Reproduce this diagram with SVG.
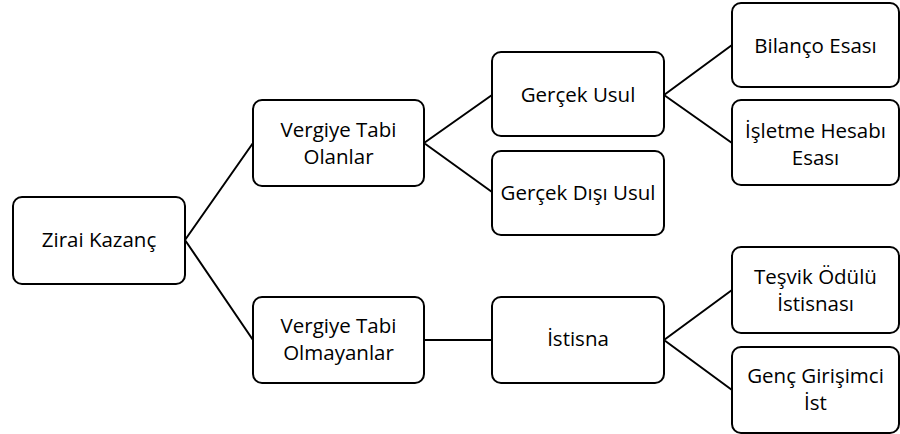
<svg xmlns="http://www.w3.org/2000/svg" width="900" height="434" viewBox="0 0 900 434">
<style>
.box{fill:#fff;stroke:#000;stroke-width:2}
.t{font-family:"Open Sans","Liberation Sans",sans-serif;font-size:20.5px;fill:#000;text-anchor:middle}
.c{stroke:#000;stroke-width:2;fill:none}
</style>
<rect width="900" height="434" fill="#fff"/>
<g id="connectors">
<path class="c" d="M185 240 L253 143 M185 240 L253 340"/>
<path class="c" d="M424 143 L492 95 M424 143 L492 192"/>
<path class="c" d="M664 95 L732 45 M664 95 L732 143"/>
<path class="c" d="M424 340 L492 340"/>
<path class="c" d="M664 340 L732 290 M664 340 L732 390"/>
</g>
<g id="zirai"><rect class="box" x="13" y="197" width="172" height="87" rx="9"/><text class="t" x="99" y="247">Zirai Kazanç</text></g>
<g id="olanlar"><rect class="box" x="253" y="100" width="171" height="86" rx="9"/><text class="t" x="338.5" y="137">Vergiye Tabi</text><text class="t" x="338.5" y="164">Olanlar</text></g>
<g id="olmayanlar"><rect class="box" x="253" y="297" width="171" height="86" rx="9"/><text class="t" x="338.5" y="333">Vergiye Tabi</text><text class="t" x="338.5" y="360">Olmayanlar</text></g>
<g id="gercek"><rect class="box" x="492" y="52" width="172" height="84" rx="9"/><text class="t" x="578" y="102">Gerçek Usul</text></g>
<g id="gercekdisi"><rect class="box" x="492" y="151" width="172" height="84" rx="9"/><text class="t" x="578" y="200">Gerçek Dışı Usul</text></g>
<g id="istisna"><rect class="box" x="492" y="297" width="172" height="86" rx="9"/><text class="t" x="578" y="346">İstisna</text></g>
<g id="bilanco"><rect class="box" x="732" y="3" width="167" height="84" rx="9"/><text class="t" x="815.5" y="53">Bilanço Esası</text></g>
<g id="isletme"><rect class="box" x="732" y="100" width="167" height="85" rx="9"/><text class="t" x="815.5" y="138">İşletme Hesabı</text><text class="t" x="815.5" y="165">Esası</text></g>
<g id="tesvik"><rect class="box" x="732" y="247" width="167" height="86" rx="9"/><text class="t" x="815.5" y="284">Teşvik Ödülü</text><text class="t" x="815.5" y="311">İstisnası</text></g>
<g id="genc"><rect class="box" x="732" y="347" width="167" height="86" rx="9"/><text class="t" x="815.5" y="383">Genç Girişimci</text><text class="t" x="815.5" y="410">İst</text></g>
</svg>
